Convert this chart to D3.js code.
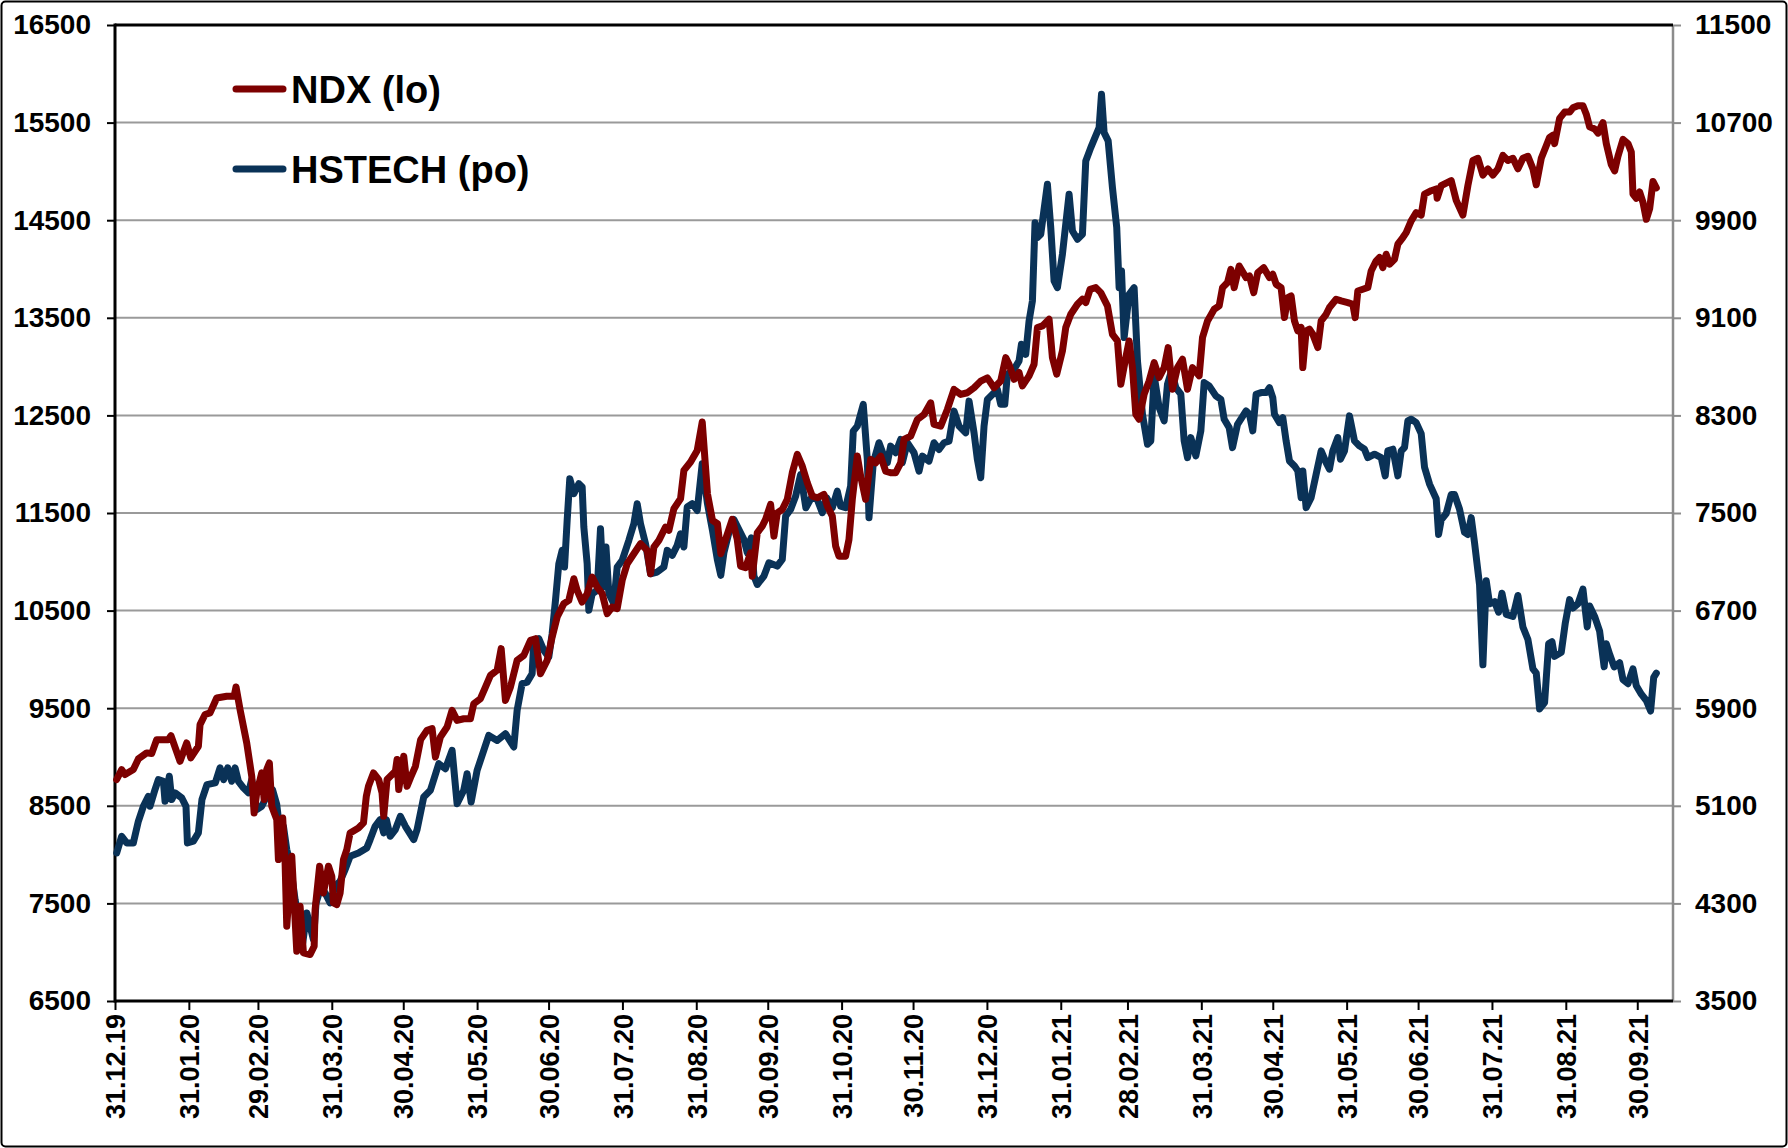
<!DOCTYPE html>
<html>
<head>
<meta charset="utf-8">
<script src="https://cdn.jsdelivr.net/npm/d3@7"></script>
<style>
  body { margin: 0; background: #fff; }
  text { font-family: "Liberation Sans", Arial, sans-serif; font-weight: bold; fill: #000; }
</style>
</head>
<body>
<script>
// dati: [giorni dal 31.12.2019, valore]
var ndxPoints = [
  [0.7,8769],[2.8,8871],[4.2,8820],[7.7,8871],[9.8,8980],[13.3,9042],[15.4,9035],[17.5,9178],[22.4,9178],[23.5,9219],
  [27.3,8956],[30.1,9144],[31.8,8991],[35,9110],[35.7,9332],[37.8,9435],[39.9,9452],[42.7,9605],[46.9,9622],[50,9622],
  [50.8,9718],[52.5,9486],[55.3,9144],[57.4,8803],[58.4,8427],[59.5,8632],[61.6,8837],[62.6,8564],[63.7,8871],[64.8,8939],
  [65.8,8495],[67.9,8359],[68.6,7949],[70.4,8376],[71.4,7915],[72.1,7266],[74.2,7983],[76.3,7010],[77.7,7471],[79.1,6993],
  [81.9,6976],[83.6,7061],[84,7437],[85.9,7881],[87.5,7607],[89.6,7881],[91,7778],[91.7,7505],[93.1,7488],[94.5,7607],
  [95.9,7949],[97.3,8051],[98.7,8222],[102.2,8273],[104.3,8325],[105.5,8598],[106.4,8700],[108.5,8837],[110.7,8769],[112.1,8632],
  [112.8,8393],[114.2,8769],[117.7,8854],[118.4,8974],[119.1,8666],[121.2,9008],[122.6,8700],[124,8786],[126.1,8905],[128.3,9178],
  [131,9273],[133.1,9290],[134.5,9000],[136.6,9205],[139.4,9307],[141.5,9478],[143.6,9375],[146.4,9392],[149.2,9392],[150.6,9546],
  [153.4,9597],[155.5,9717],[157.6,9836],[160.4,9888],[162.1,10110],[163.9,9580],[166,9717],[168.8,9990],[171.6,10041],[174.4,10195],
  [176.5,10212],[178.6,9853],[181.4,9990],[183.5,10229],[185.6,10434],[187,10502],[188.4,10571],[190.5,10605],[192.6,10827],[194,10707],
  [196.1,10588],[198.2,10673],[200.3,10844],[202.4,10741],[204.5,10673],[206.6,10468],[208.7,10536],[210.8,10519],[212.9,10810],[215,10980],
  [217.8,11083],[220.6,11185],[223.4,11117],[224.8,10878],[226.2,11151],[228.3,11219],[231.1,11356],[232.5,11322],[234.6,11544],[237.4,11646],
  [238.8,11937],[241.6,12022],[244.4,12141],[246.5,12432],[248.7,11697],[250.8,11424],[252.9,11390],[254.3,11083],[256.3,11229],[259.1,11434],
  [261.2,11229],[262.6,10956],[264.7,10939],[266.8,11093],[267.5,10853],[269.6,11297],[271.7,11366],[273.1,11434],[275.2,11588],[276.6,11263],
  [278,11502],[280.1,11536],[282.2,11639],[284.3,11912],[286.4,12100],[288.5,11980],[290.6,11810],[292.7,11673],[294.8,11656],[297.6,11690],
  [299,11571],[301.1,11468],[302.5,11161],[303.9,11058],[306.7,11058],[308.1,11229],[309.5,11639],[311.6,12083],[313,11878],[315.1,11639],
  [317.2,12049],[319.3,12014],[321.4,12083],[323.5,11929],[325.6,11912],[327.7,11912],[329.8,12014],[331.2,12254],[334,12288],[336.8,12458],
  [339.6,12510],[342.4,12629],[343.8,12407],[346.6,12390],[349.4,12561],[352.2,12766],[355,12715],[357.8,12732],[360.6,12783],[363.4,12851],
  [366.2,12885],[369,12783],[371.8,12853],[373.9,13092],[375.3,13024],[377.4,12870],[379.5,12939],[380.9,12802],[383.7,12905],[385.8,13024],
  [387.2,13400],[389.3,13417],[392.1,13485],[393.5,13092],[395.3,12922],[397.7,13161],[399.1,13400],[401.2,13536],[404,13639],[406.1,13690],
  [407.5,13656],[409.3,13792],[411.7,13809],[413.8,13758],[416.6,13622],[418.7,13331],[420.8,13263],[422.2,12819],[424.3,13092],[425.7,13263],
  [427.1,12990],[428.5,12512],[429.9,12461],[432,12717],[434.1,12853],[436.2,13041],[438.3,12888],[440.4,12990],[442.1,13195],[443.9,12768],
  [446,12990],[448.1,13075],[450.2,12768],[452.3,12990],[455.1,12905],[456.5,13297],[458.6,13468],[461.4,13588],[463.5,13622],[464.9,13809],
  [467,13861],[468.4,13997],[469.8,13809],[471.9,14031],[474.8,13912],[476.2,13929],[478,13758],[479.7,13963],[482.2,14014],[484.6,13912],
  [486,13946],[487.4,13844],[489.5,13810],[490.9,13502],[492.3,13707],[493.7,13724],[495.1,13468],[496.5,13366],[497.9,13400],[498.6,12990],
  [500,13366],[501.4,13383],[502.8,13332],[504.9,13195],[506.3,13468],[508.4,13536],[509.8,13605],[512.6,13690],[514.7,13673],[517.5,13656],
  [519.6,13639],[520.6,13502],[521.7,13775],[523.8,13792],[525.9,13810],[527.3,13980],[529.4,14083],[530.8,14117],[532.2,14014],[533.6,14151],
  [535,14049],[537.1,14100],[538.5,14254],[540.6,14322],[542,14373],[544.1,14493],[546.2,14578],[548.3,14552],[549.7,14768],[552.5,14802],
  [554.6,14820],[555,14725],[556.7,14854],[560.9,14906],[563,14703],[565.8,14552],[567.9,14854],[570,15112],[572.1,15134],[574.2,14962],
  [576.3,15026],[578.4,14962],[580.5,15026],[582.6,15164],[584.7,15112],[586.8,15134],[588.9,15026],[591,15134],[593.1,15155],[595.2,15026],
  [596.6,14863],[598.7,15134],[600.8,15263],[602.2,15349],[603.6,15371],[604.3,15285],[606.4,15543],[608.5,15608],[610.6,15608],[612,15651],
  [614.1,15672],[616.2,15672],[617.6,15586],[619,15457],[621.1,15435],[622.5,15392],[624.6,15500],[626,15285],[628.1,15069],[629.5,15005],
  [630.9,15155],[633,15328],[635.1,15285],[636.5,15198],[637.2,14768],[638.6,14725],[640,14789],[641.4,14682],[642.8,14509],[644.2,14617],
  [645.6,14897],[647,14832]
];

var hstechPoints = [
  [0.7,4714],[2.8,4850],[4.9,4796],[7.7,4796],[9.8,4973],[11.9,5096],[14,5178],[14.7,5096],[16.8,5233],[18.2,5315],
  [20.3,5301],[21,5137],[22.8,5342],[23.8,5151],[25.2,5206],[28,5165],[29.8,5096],[30.4,4796],[32.9,4810],[35,4878],
  [36.5,5151],[38.6,5274],[42.1,5288],[44.1,5411],[45.6,5315],[47.3,5411],[49,5301],[50.4,5411],[51.8,5301],[53.9,5247],
  [56,5206],[57.4,5315],[59.5,5069],[61.6,5096],[63.7,5178],[66.1,5233],[67.9,5110],[69.3,4878],[70.7,4932],[72.1,4741],
  [73.5,4632],[75.6,4331],[77,4167],[78.8,3976],[80.5,4222],[81.9,4113],[83.3,4003],[84.4,4304],[86.1,4413],[88.2,4386],
  [90.3,4304],[92.4,4441],[94.5,4482],[96.6,4577],[98.7,4687],[102.2,4714],[105.7,4755],[107.1,4823],[109.2,4932],[111.3,4987],
  [112.8,4878],[113.9,4987],[115.5,4850],[117.7,4905],[119.8,5014],[121.9,4932],[125.4,4823],[126.8,4905],[129.6,5172],[132.4,5227],
  [135.9,5445],[138.7,5404],[141.5,5554],[143.6,5117],[146.4,5227],[147.8,5363],[149.5,5131],[152,5390],[154.8,5554],[156.9,5677],
  [160.4,5636],[163.9,5691],[167.4,5582],[168.8,5882],[170.9,6101],[173,6114],[175.1,6183],[175.8,6442],[177.9,6470],[180,6374],
  [182.1,6319],[183.5,6511],[184.9,6784],[186.3,7084],[187.7,7194],[188.7,7057],[189.8,7439],[190.9,7781],[192.6,7658],[194.7,7740],
  [196.1,7713],[196.8,7385],[198.2,7084],[198.9,6702],[200.3,6838],[202.4,6866],[203.8,7371],[205,6893],[206.1,7221],[207.3,6838],
  [209.4,6757],[210.8,7057],[212.9,7112],[215.7,7276],[217.8,7412],[219.2,7576],[220.6,7412],[222.7,7248],[224.8,7002],[227.6,7016],
  [230.4,7057],[231.8,7194],[233.9,7153],[236,7235],[237.4,7330],[238.8,7221],[240.2,7549],[242.3,7576],[244.4,7521],[246.5,7904],
  [248.7,7576],[250.8,7357],[252.9,7112],[254.3,6989],[255.6,7174],[257.7,7338],[259.8,7447],[261.9,7365],[264,7283],[265.4,7174],
  [267.1,7297],[268.2,6983],[269.6,6914],[272.4,6983],[274.5,7092],[278,7065],[280.1,7119],[281.5,7474],[283.6,7529],[285.7,7638],
  [287.8,7816],[290,7543],[292.7,7638],[294.8,7611],[296.9,7502],[298.7,7625],[301.1,7543],[303.2,7679],[304.6,7556],[306.7,7543],
  [308.8,7720],[309.9,8171],[311.6,8212],[314.1,8390],[315.8,7939],[316.5,7461],[318.3,7912],[320.7,8076],[322.8,7966],[324.2,7912],
  [325.6,8048],[327.7,7994],[329.8,8103],[330.5,7912],[332.6,8076],[335.4,7994],[337.5,7843],[338.9,7966],[341.7,7925],[343.8,8076],
  [345.9,8021],[348,8076],[350.1,8089],[352.2,8335],[354.3,8212],[357.1,8157],[358.5,8417],[360.6,8157],[362,7939],[363.4,7789],
  [364.8,8212],[366.2,8431],[368.3,8472],[370.4,8513],[371.8,8391],[373.5,8391],[374.6,8637],[377.4,8678],[379.5,8747],[380.5,8883],
  [382.3,8801],[383.7,9074],[385.1,9238],[386.2,9880],[387.2,9757],[388.6,9785],[391.4,10195],[392.8,9839],[394.2,9402],[395.6,9347],
  [397.7,9621],[400.5,10113],[401.9,9812],[404,9744],[406.1,9785],[407.5,10386],[409.6,10495],[413.1,10659],[414.1,10932],[415.2,10618],
  [416.9,10550],[418.7,10167],[420.5,9839],[421.5,9347],[422.5,9484],[423.6,8938],[425.7,9293],[427.8,9347],[429.2,8747],[431.3,8309],
  [433.4,8064],[434.8,8091],[436.2,8624],[438.3,8364],[440.4,8255],[441.8,8555],[443.5,8665],[445.3,8528],[447.4,8474],[448.8,8091],
  [450.2,7954],[451.6,8118],[453.7,7968],[455.8,8173],[457.2,8569],[459.3,8542],[462.1,8460],[464.2,8432],[465.6,8268],[467.7,8200],
  [469.1,8036],[471.2,8227],[474.8,8337],[476.2,8310],[477.6,8173],[479,8473],[481.1,8487],[483.2,8487],[484.6,8528],[486,8446],
  [486.7,8310],[488.8,8241],[490.2,8282],[491.6,8091],[493,7927],[495.1,7886],[496.5,7845],[497.9,7626],[498.6,7845],[500,7544],
  [502.1,7626],[504.2,7818],[506.3,8009],[508.4,7913],[509.8,7859],[511.2,8009],[513.3,8118],[514.4,7941],[516.1,8009],[518.2,8296],
  [520.3,8091],[522.4,8050],[524.5,8023],[525.9,7954],[528.7,7982],[531.5,7954],[533.2,7804],[534.3,8009],[536.4,8023],[538.5,7804],
  [539.9,8009],[541.3,8036],[542.7,8255],[544.1,8269],[546.2,8241],[548.3,8151],[549.7,7875],[551.8,7737],[554.6,7617],[555.6,7324],
  [556.7,7444],[558.8,7496],[560.9,7651],[562.3,7651],[564.4,7531],[566.5,7341],[567.9,7324],[569.3,7462],[570.7,7255],[572.8,6911],
  [574.2,6256],[575.6,6945],[577,6756],[579.1,6773],[580.8,6687],[582.2,6842],[584,6669],[586.8,6652],[588.9,6824],[591,6566],
  [593.1,6463],[595.2,6222],[596.6,6187],[598,5894],[600.1,5946],[601.8,6428],[603.2,6446],[604.3,6325],[607.1,6359],[608.8,6600],
  [610.6,6790],[612,6721],[614.1,6755],[616.2,6876],[618,6566],[619,6738],[621.1,6652],[623.2,6532],[625.1,6239],[626,6428],
  [627.4,6342],[629.3,6239],[631.6,6273],[633,6135],[635.1,6101],[637.2,6222],[638.6,6084],[640.7,6015],[642.8,5963],[644.6,5877],
  [645.9,6153],[647,6187]
];

var leftTicks = [6500, 7500, 8500, 9500, 10500, 11500, 12500, 13500, 14500, 15500, 16500];
var rightTicks = [3500, 4300, 5100, 5900, 6700, 7500, 8300, 9100, 9900, 10700, 11500];
var dateTicks = ["2019-12-31","2020-01-31","2020-02-29","2020-03-31","2020-04-30","2020-05-31","2020-06-30",
  "2020-07-31","2020-08-31","2020-09-30","2020-10-31","2020-11-30","2020-12-31","2021-01-31","2021-02-28",
  "2021-03-31","2021-04-30","2021-05-31","2021-06-30","2021-07-31","2021-08-31","2021-09-30"];
var seriesNames = ["NDX (lo)", "HSTECH (po)"];
var seriesColors = ["#7d0000", "#0a3257"];

const W = 1788, H = 1148;
const plot = { left: 115, right: 1673, top: 25, bottom: 1001 };

var parseDay = d3.utcParse("%Y-%m-%d");
var startDate = parseDay("2019-12-31");
function dayToDate(d) { return new Date(startDate.getTime() + d * 86400000); }

var x = d3.scaleUtc().domain([startDate, parseDay("2021-10-15")]).range([plot.left, plot.right]);
var yLeft = d3.scaleLinear().domain([6500, 16500]).range([plot.bottom, plot.top]);
var yRight = d3.scaleLinear().domain([3500, 11500]).range([plot.bottom, plot.top]);

var svg = d3.select("body").append("svg").attr("width", W).attr("height", H);

// cornice esterna
svg.append("rect").attr("x", 1.5).attr("y", 1.5).attr("width", W - 3).attr("height", H - 3)
  .attr("rx", 4).attr("fill", "#fff").attr("stroke", "#000").attr("stroke-width", 2);

// griglia
svg.append("g").selectAll("line").data(leftTicks.slice(1, -1)).join("line")
  .attr("x1", plot.left).attr("x2", plot.right)
  .attr("y1", d => yLeft(d)).attr("y2", d => yLeft(d))
  .attr("stroke", "#9a9a9a").attr("stroke-width", 2);

// asse sinistro
var gl = svg.append("g").attr("transform", "translate(" + plot.left + ",0)")
  .call(d3.axisLeft(yLeft).tickValues(leftTicks).tickSize(8).tickPadding(16).tickFormat(d3.format("d")));
gl.select(".domain").remove();
gl.selectAll(".tick line").attr("stroke", "#000").attr("stroke-width", 2);
gl.selectAll(".tick text").style("font-size", "28px").attr("fill", "#000");

// asse destro
var gr = svg.append("g").attr("transform", "translate(" + plot.right + ",0)")
  .call(d3.axisRight(yRight).tickValues(rightTicks).tickSize(8).tickPadding(14).tickFormat(d3.format("d")));
gr.select(".domain").remove();
gr.selectAll(".tick line").attr("stroke", "#8c8c8c").attr("stroke-width", 2);
gr.selectAll(".tick text").style("font-size", "28px").attr("fill", "#000");
svg.append("line").attr("x1", plot.right).attr("x2", plot.right).attr("y1", plot.top).attr("y2", plot.bottom)
  .attr("stroke", "#8c8c8c").attr("stroke-width", 2.5);

// asse x
var gx = svg.append("g").attr("transform", "translate(0," + plot.bottom + ")")
  .call(d3.axisBottom(x).tickValues(dateTicks.map(parseDay)).tickSize(9).tickFormat(d3.utcFormat("%d.%m.%y")));
gx.select(".domain").remove();
gx.selectAll(".tick line").attr("stroke", "#000").attr("stroke-width", 2);
gx.selectAll(".tick text")
  .style("font-size", "27px").attr("fill", "#000")
  .attr("transform", "rotate(-90)")
  .attr("x", -13).attr("y", 0).attr("dy", "0.36em")
  .attr("text-anchor", "end");

// bordi neri sinistro, basso e alto
svg.append("line").attr("x1", plot.left).attr("x2", plot.left).attr("y1", plot.top - 1.5).attr("y2", plot.bottom + 1.5)
  .attr("stroke", "#000").attr("stroke-width", 3);
svg.append("line").attr("x1", plot.left).attr("x2", plot.right).attr("y1", plot.bottom).attr("y2", plot.bottom)
  .attr("stroke", "#000").attr("stroke-width", 3);
svg.append("line").attr("x1", plot.left).attr("x2", plot.right).attr("y1", plot.top).attr("y2", plot.top)
  .attr("stroke", "#000").attr("stroke-width", 3);

// linee
var lineLeft = d3.line().x(d => x(dayToDate(d[0]))).y(d => yLeft(d[1]));
var lineRight = d3.line().x(d => x(dayToDate(d[0]))).y(d => yRight(d[1]));

svg.append("path").datum(hstechPoints).attr("d", lineRight)
  .attr("fill", "none").attr("stroke", seriesColors[1]).attr("stroke-width", 7)
  .attr("stroke-linejoin", "round").attr("stroke-linecap", "round");
svg.append("path").datum(ndxPoints).attr("d", lineLeft)
  .attr("fill", "none").attr("stroke", seriesColors[0]).attr("stroke-width", 7)
  .attr("stroke-linejoin", "round").attr("stroke-linecap", "round");

// legenda
var legend = svg.append("g").selectAll("g").data(seriesNames).join("g")
  .attr("transform", (d, i) => "translate(236," + (89 + i * 80) + ")");
legend.append("line").attr("x1", 0).attr("x2", 47).attr("y1", 0).attr("y2", 0)
  .attr("stroke", (d, i) => seriesColors[i]).attr("stroke-width", 7).attr("stroke-linecap", "round");
legend.append("text").attr("x", 55).attr("dy", "0.36em").style("font-size", "38px").text(d => d);
</script>
</body>
</html>
